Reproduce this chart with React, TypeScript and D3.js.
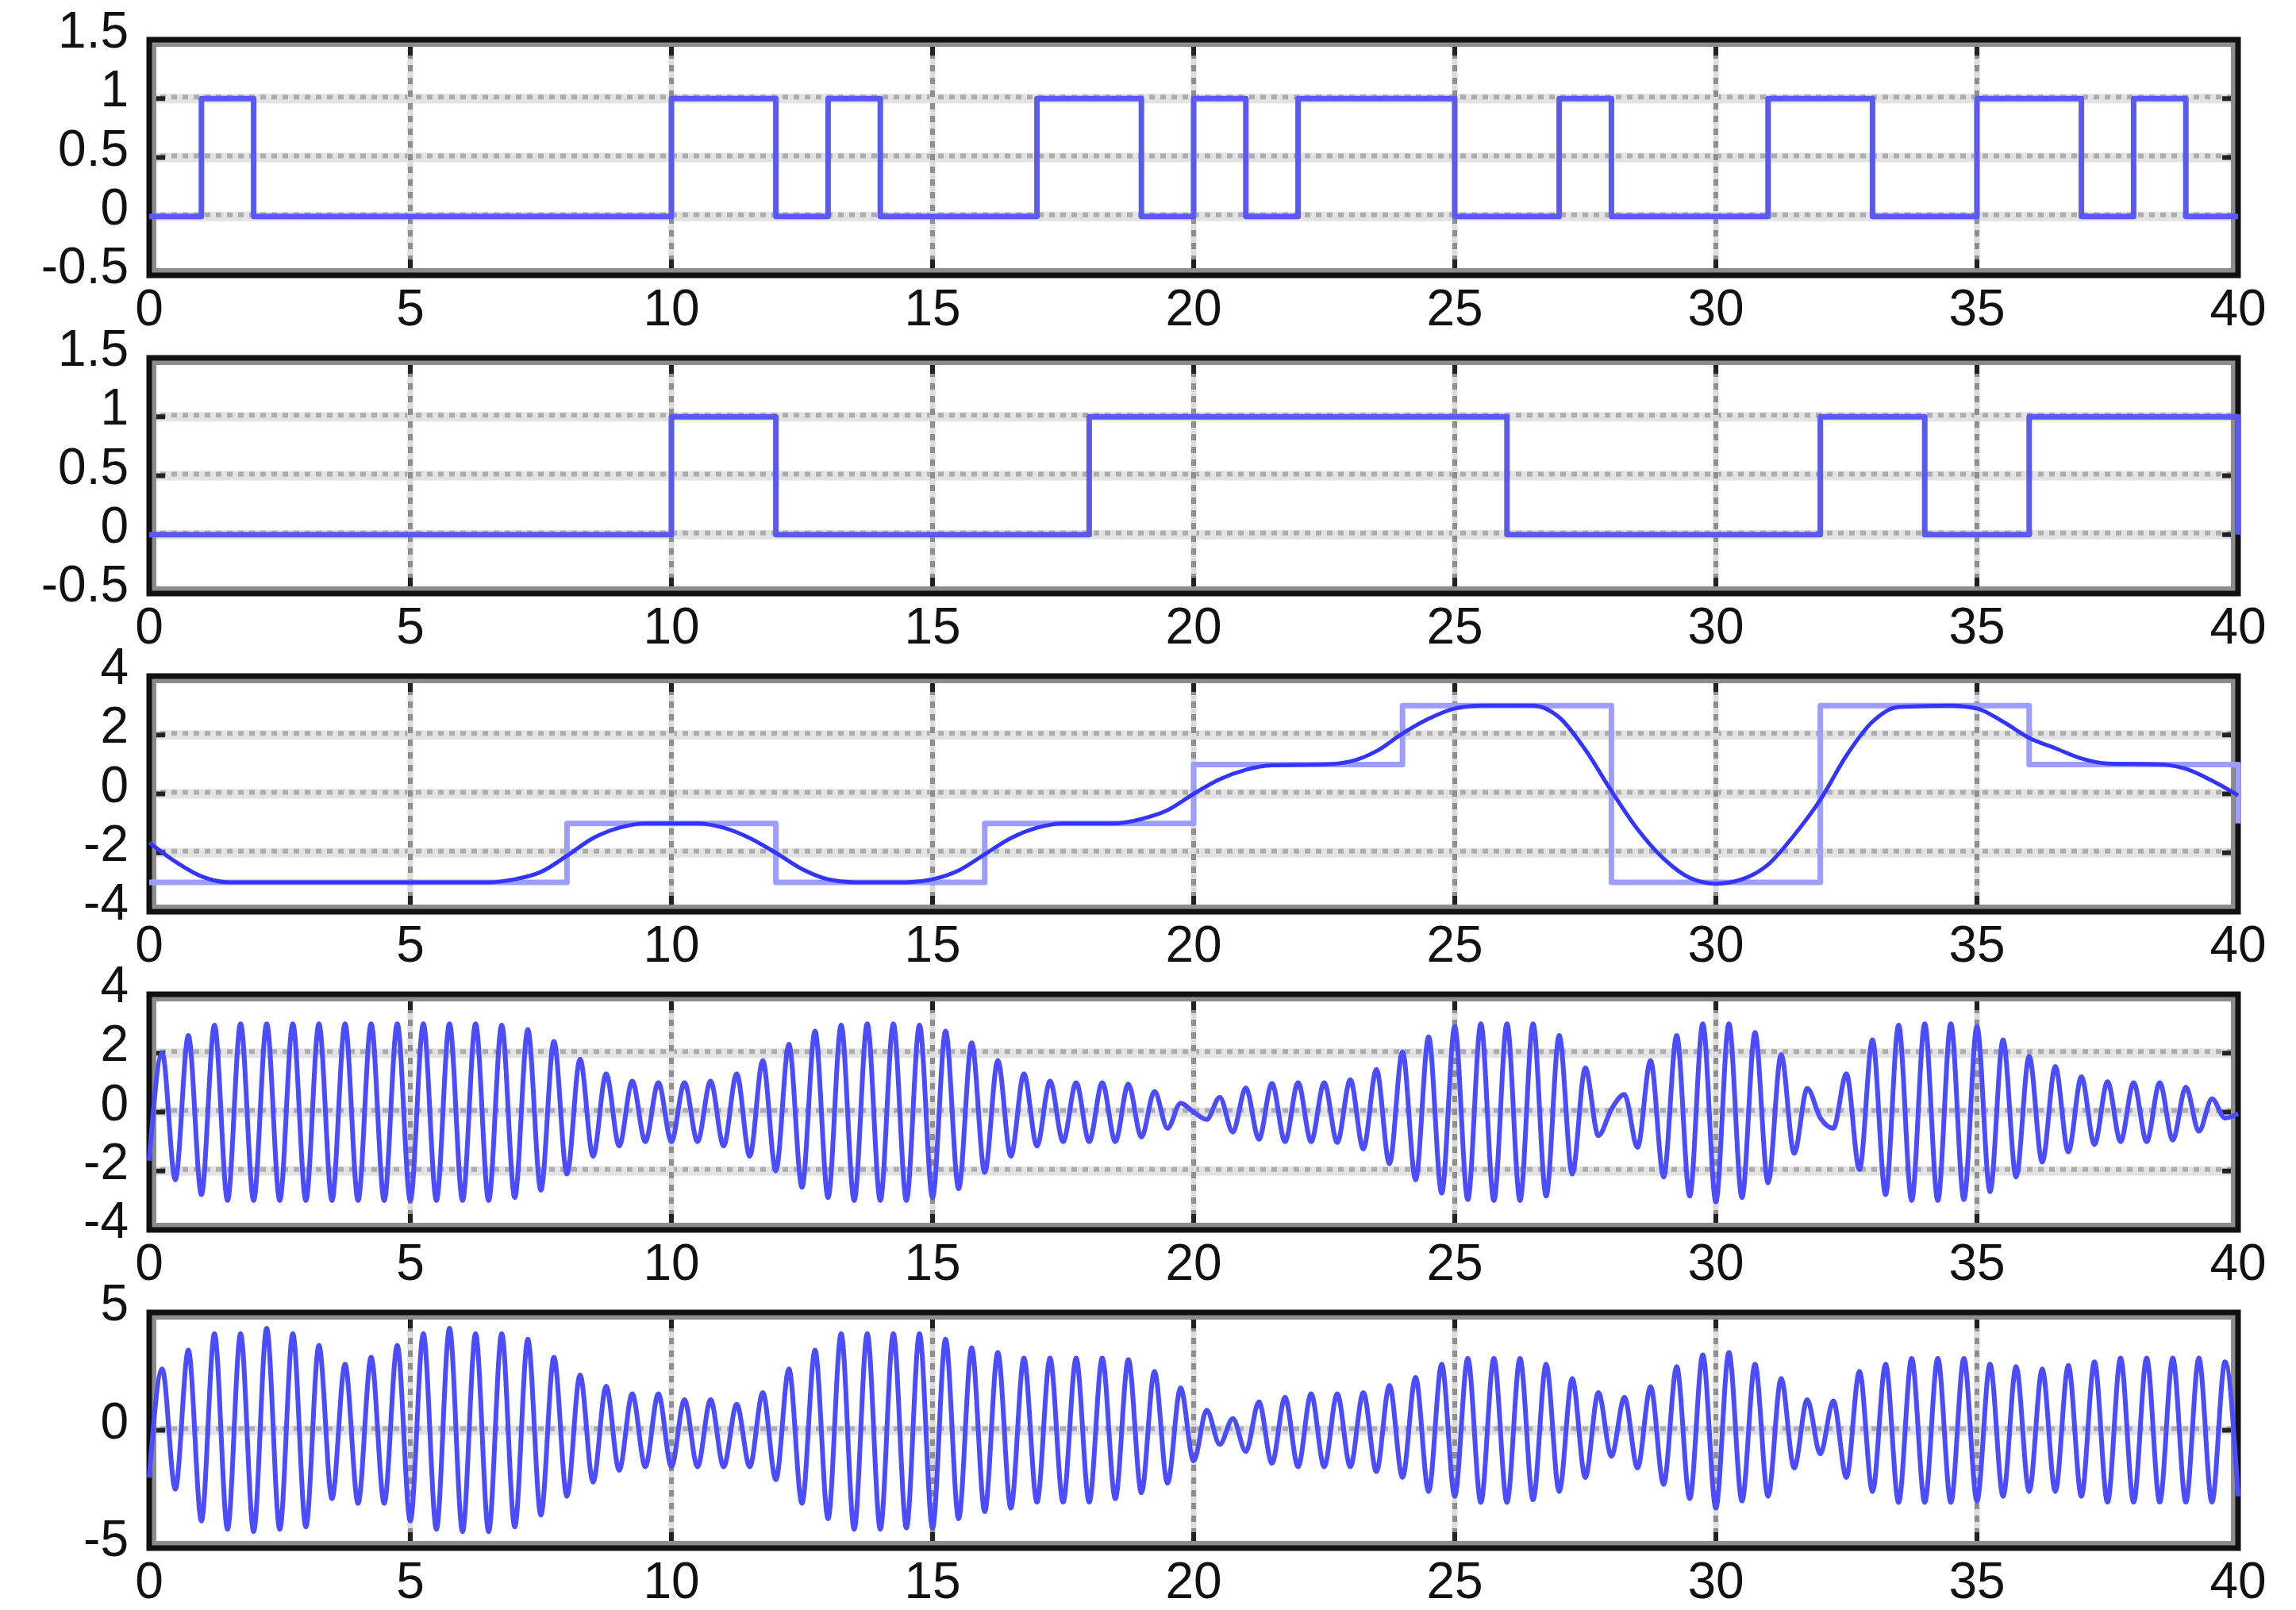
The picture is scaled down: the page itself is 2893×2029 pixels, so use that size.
import React, { useRef, useEffect } from "react";
import * as d3 from "d3";

// x axis (time) ticks shared by all five panels
const xTicks = [0, 5, 10, 15, 20, 25, 30, 35, 40];

// panel 1: one bit per unit of time, last entry is the sample at t = 40
const bitsA = [
  0, 1, 0, 0, 0, 0, 0, 0, 0, 0,
  1, 1, 0, 1, 0, 0, 0, 1, 1, 0,
  1, 0, 1, 1, 1, 0, 0, 1, 0, 0,
  0, 1, 1, 0, 0, 1, 1, 0, 1, 0,
  0,
];

// panel 2: one bit per two units of time
const bitsB = [0, 0, 0, 0, 0, 1, 0, 0, 0, 1, 1, 1, 1, 0, 0, 0, 1, 0, 1, 1, 0];

// panel 3: four-level symbols, one per four units of time
const levels = [-3, -3, -1, -3, -1, 1, 3, -3, 3, 1, -1];

// panel 3: smoothed level curve [t, value]
const levelCurve: [number, number][] = [
  [0, -1.65], [0.5, -2.3], [1, -2.8], [1.5, -3], [6.5, -3], [7, -2.9], [7.5, -2.65],
  [8, -2.1], [8.5, -1.5], [9, -1.15], [9.5, -1], [10.5, -1], [11, -1.15], [11.5, -1.5],
  [12, -2], [12.5, -2.55], [13, -2.9], [13.5, -3], [14.5, -3], [15, -2.9], [15.5, -2.6],
  [16, -2.05], [16.5, -1.5], [17, -1.15], [17.5, -1], [18.5, -1], [19, -0.85], [19.5, -0.55],
  [20, 0], [20.5, 0.5], [21, 0.82], [21.5, 0.97], [22.5, 1], [23, 1.1], [23.5, 1.45],
  [24, 2.05], [24.5, 2.55], [25, 2.9], [25.5, 3], [26.5, 3], [27, 2.6], [27.5, 1.5],
  [28, 0.1], [28.5, -1.2], [29, -2.2], [29.5, -2.85], [30, -3.05], [30.5, -2.9], [31, -2.4],
  [31.5, -1.4], [32, -0.2], [32.5, 1.3], [33, 2.45], [33.5, 2.95], [34.5, 3], [35, 2.9],
  [35.5, 2.45], [36, 1.9], [36.5, 1.55], [37, 1.2], [37.5, 1.03], [38.5, 1], [39, 0.85],
  [39.5, 0.45], [40, -0.05],
];

// panels 4 and 5: peak values of the carrier, one every quarter unit
const peakStep = 0.25;

const peaksMod = [
  -1.65, 2.0, -2.3, 2.6, -2.8, 2.95, -3, 3,
  -3, 3, -3, 3, -3, 3, -3, 3, -3, 3, -3, 3, -3, 3, -3, 3, -3, 3, -3,
  2.95, -2.9, 2.8, -2.65, 2.4, -2.1, 1.8, -1.5, 1.3, -1.15, 1.05, -1, 1, -1, 1, -1,
  1.05, -1.15, 1.3, -1.5, 1.75, -2.0, 2.3, -2.55, 2.75, -2.9, 2.95, -3, 3, -3, 3, -3,
  2.95, -2.9, 2.75, -2.6, 2.35, -2.05, 1.75, -1.5, 1.3, -1.15, 1.05, -1, 1, -1, 1, -1,
  0.95, -0.85, 0.7, -0.55, 0.3, 0, -0.25, 0.5, -0.68, 0.82, -0.92, 0.97, -1, 1, -1, 1,
  -1.03, 1.1, -1.25, 1.45, -1.75, 2.05, -2.3, 2.55, -2.75, 2.9, -2.97, 3, -3, 3, -3, 3,
  -2.85, 2.6, -2.1, 1.5, -0.8, 0.1, 0.6, -1.2, 1.75, -2.2, 2.6, -2.85, 3.0, -3.05, 3.0, -2.9,
  2.7, -2.4, 1.95, -1.4, 0.8, -0.2, -0.55, 1.3, -1.95, 2.45, -2.8, 2.95, -3, 3, -3, 3,
  -2.97, 2.9, -2.7, 2.45, -2.2, 1.9, -1.7, 1.55, -1.35, 1.2, -1.1, 1.03, -1, 1, -1, 1,
  -0.95, 0.85, -0.65, 0.45, -0.2, -0.05,
];

const peaksQam = [
  -2.0, 2.6, -2.5, 3.4, -3.85, 4.1, -4.2, 4.1,
  -4.3, 4.33, -4.2, 4.1, -4.1, 3.6, -2.9, 2.8, -3.1, 3.1, -3.1, 3.6, -3.85, 4.1, -4.2, 4.33, -4.3, 4.1, -4.3,
  4.1, -4.1, 3.86, -3.6, 3.1, -2.8, 2.35, -2.2, 1.87, -1.7, 1.55, -1.55, 1.55, -1.55, 1.3, -1.55,
  1.3, -1.55, 1.1, -1.55, 1.6, -2.1, 2.6, -3.1, 3.4, -3.75, 4.1, -4.2, 4.1, -4.2, 4.1, -4.15,
  4.1, -4.15, 3.86, -3.75, 3.5, -3.45, 3.3, -3.3, 3.06, -3.05, 3.06, -3.05, 3.06, -3.05, 3.06, -2.9,
  3.0, -2.65, 2.5, -2.25, 1.8, -1.3, 0.85, -0.6, 0.5, -0.9, 1.2, -1.4, 1.4, -1.55, 1.55, -1.55,
  1.55, -1.55, 1.6, -1.75, 1.9, -2.0, 2.25, -2.6, 2.8, -2.8, 3.05, -3.06, 3.05, -3.06, 3.05, -2.95,
  2.8, -2.6, 2.2, -2.0, 1.6, -1.1, 1.4, -1.6, 1.85, -2.3, 2.7, -2.9, 3.2, -3.3, 3.3, -3.0,
  2.8, -2.8, 2.2, -1.6, 1.3, -1.0, 1.25, -2.0, 2.5, -2.6, 2.8, -3.06, 3.05, -3.06, 3.05, -3.06,
  3.05, -3.0, 2.8, -2.8, 2.7, -2.6, 2.6, -2.6, 2.75, -2.8, 2.9, -3.05, 3.06, -3.05, 3.06, -3.05,
  3.06, -3.05, 3.06, -3.05, 2.9, -2.8,
];

// y ticks and their labels
const yTicksBits = [-0.5, 0, 0.5, 1, 1.5];
const yLabelsBits = ["-0.5", "0", "0.5", "1", "1.5"];
const yTicksFour = [-4, -2, 0, 2, 4];
const yLabelsFour = ["-4", "-2", "0", "2", "4"];
const yTicksFive = [-5, 0, 5];
const yLabelsFive = ["-5", "0", "5"];

const W = 2893;
const H = 2029;
const LEFT = 188;
const RIGHT = 2820;
const TOP0 = 50;
const PITCH = 401;
const PANEL_H = 297;
const FONT = "'Liberation Sans', Arial, Helvetica, sans-serif";
const FONT_SIZE = 64;

type Pt = [number, number];

const Chart = () => {
  const svgRef = useRef<SVGSVGElement>(null);

  useEffect(() => {
    const svg = d3.select(svgRef.current);
    svg.selectAll("*").remove();

    const x = d3.scaleLinear().domain([0, 40]).range([LEFT, RIGHT]);

    const stepPts = (vals: number[], width: number): Pt[] => vals.map((v, i) => [i * width, v]);
    const peakPts = (vals: number[]): Pt[] => vals.map((v, i) => [i * peakStep, v]);

    const panels = [
      {
        domain: [-0.5, 1.5], ticks: yTicksBits, labels: yLabelsBits,
        series: [{ pts: stepPts(bitsA, 1), curve: d3.curveStepAfter, color: "#5a5af0", width: 7 }],
      },
      {
        domain: [-0.5, 1.5], ticks: yTicksBits, labels: yLabelsBits,
        series: [{ pts: stepPts(bitsB, 2), curve: d3.curveStepAfter, color: "#5a5af0", width: 7 }],
      },
      {
        domain: [-4, 4], ticks: yTicksFour, labels: yLabelsFour,
        series: [
          { pts: stepPts(levels, 4), curve: d3.curveStepAfter, color: "#9d9dff", width: 7 },
          { pts: levelCurve, curve: d3.curveMonotoneX, color: "#3434ff", width: 5 },
        ],
      },
      {
        domain: [-4, 4], ticks: yTicksFour, labels: yLabelsFour,
        series: [{ pts: peakPts(peaksMod), curve: d3.curveMonotoneX, color: "#4c4cff", width: 6 }],
      },
      {
        domain: [-5, 5], ticks: yTicksFive, labels: yLabelsFive,
        series: [{ pts: peakPts(peaksQam), curve: d3.curveMonotoneX, color: "#4c4cff", width: 6 }],
      },
    ];

    panels.forEach((p, i) => {
      const top = TOP0 + i * PITCH;
      const bottom = top + PANEL_H;
      const y = d3.scaleLinear().domain(p.domain).range([bottom, top]);
      const g = svg.append("g");

      const innerY = p.ticks.filter((t) => t > p.domain[0] && t < p.domain[1]);
      const innerX = xTicks.filter((t) => t > 0 && t < 40);

      // horizontal grid
      g.selectAll(".hgu").data(innerY).join("line")
        .attr("x1", LEFT).attr("x2", RIGHT)
        .attr("y1", (d) => y(d)).attr("y2", (d) => y(d))
        .attr("stroke", "#e3e3e3").attr("stroke-width", 12);
      g.selectAll(".hg").data(innerY).join("line")
        .attr("x1", LEFT).attr("x2", RIGHT)
        .attr("y1", (d) => y(d) - 2).attr("y2", (d) => y(d) - 2)
        .attr("stroke", "#adadad").attr("stroke-width", 6)
        .attr("stroke-dasharray", "7,7");

      // vertical grid
      g.selectAll(".vgu").data(innerX).join("line")
        .attr("x1", (d) => x(d)).attr("x2", (d) => x(d))
        .attr("y1", top).attr("y2", bottom)
        .attr("stroke", "#dcdcdc").attr("stroke-width", 7);
      g.selectAll(".vg").data(innerX).join("line")
        .attr("x1", (d) => x(d)).attr("x2", (d) => x(d))
        .attr("y1", top).attr("y2", bottom)
        .attr("stroke", "#8f8f8f").attr("stroke-width", 6)
        .attr("stroke-dasharray", "8,8");

      // inward tick marks on all four sides
      const tl = 20;
      g.selectAll(".tx").data(innerX.flatMap((d) => [[d, top, top + tl], [d, bottom, bottom - tl]]))
        .join("line")
        .attr("x1", (d) => x(d[0])).attr("x2", (d) => x(d[0]))
        .attr("y1", (d) => d[1]).attr("y2", (d) => d[2])
        .attr("stroke", "#222").attr("stroke-width", 6);
      g.selectAll(".ty").data(innerY.flatMap((d) => [[d, LEFT, LEFT + tl], [d, RIGHT, RIGHT - tl]]))
        .join("line")
        .attr("y1", (d) => y(d[0])).attr("y2", (d) => y(d[0]))
        .attr("x1", (d) => d[1]).attr("x2", (d) => d[2])
        .attr("stroke", "#222").attr("stroke-width", 6);

      // axes box
      g.append("rect")
        .attr("x", LEFT + 6).attr("y", top + 6)
        .attr("width", RIGHT - LEFT - 12).attr("height", PANEL_H - 12)
        .attr("fill", "none").attr("stroke", "#8c8c8c").attr("stroke-width", 6);
      g.append("rect")
        .attr("x", LEFT).attr("y", top)
        .attr("width", RIGHT - LEFT).attr("height", PANEL_H)
        .attr("fill", "none").attr("stroke", "#111").attr("stroke-width", 7);

      // data
      p.series.forEach((s) => {
        const gen = d3.line<Pt>()
          .x((d) => x(d[0]))
          .y((d) => y(d[1]))
          .curve(s.curve);
        g.append("path")
          .attr("d", gen(s.pts))
          .attr("fill", "none")
          .attr("stroke", s.color)
          .attr("stroke-width", s.width)
          .attr("stroke-linejoin", "round");
      });

      // y tick labels
      g.selectAll(".yl").data(p.ticks).join("text")
        .attr("x", 162)
        .attr("y", (d) => y(d) - 12)
        .attr("dominant-baseline", "central")
        .attr("text-anchor", "end")
        .attr("font-family", FONT)
        .attr("font-size", FONT_SIZE)
        .attr("fill", "#111")
        .text((d, j) => p.labels[j]);

      // x tick labels
      g.selectAll(".xl").data(xTicks).join("text")
        .attr("x", (d) => x(d))
        .attr("y", bottom + 63)
        .attr("text-anchor", "middle")
        .attr("font-family", FONT)
        .attr("font-size", FONT_SIZE)
        .attr("fill", "#111")
        .text((d) => String(d));
    });
  }, []);

  return (
    <svg
      ref={svgRef}
      width={W}
      height={H}
      style={{ position: "absolute", left: 0, top: 0, background: "#fff" }}
    />
  );
};

export default function App() {
  return <Chart />;
}
